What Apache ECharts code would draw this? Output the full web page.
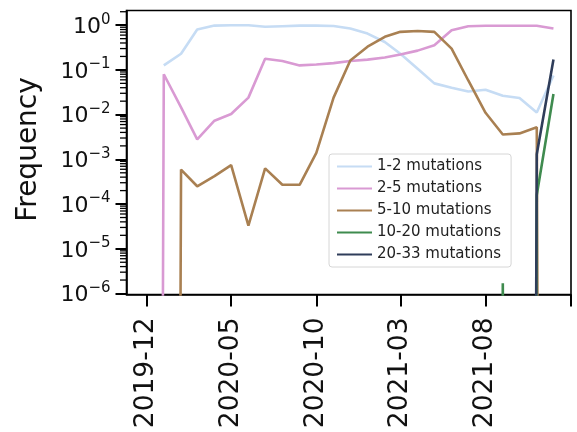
<!DOCTYPE html>
<html>
<head>
<meta charset="utf-8">
<script src="https://cdn.jsdelivr.net/npm/echarts@6/dist/echarts.min.js"></script>
<style>
html,body{margin:0;padding:0;background:#fff;}
#chart{width:577px;height:432px;}
</style>
</head>
<body>
<div id="chart"></div>
<script>
// Months (first of month); a value of ZERO stands for a zero frequency,
// which on a log axis falls far below the plot (as matplotlib clips it).
const ZERO = 1e-100;
const months = ['2019-12','2020-01','2020-02','2020-03','2020-04','2020-05','2020-06','2020-07','2020-08','2020-09','2020-10','2020-11','2020-12',
                '2021-01','2021-02','2021-03','2021-04','2021-05','2021-06','2021-07','2021-08','2021-09','2021-10','2021-11','2021-12'];
const mut1_2   = [null, 0.126, 0.23, 0.80, 0.98, 1.0, 1.0, 0.92, 0.95, 0.98, 0.98, 0.96, 0.84,
                  0.65, 0.42, 0.23, 0.106, 0.050, 0.040, 0.033, 0.036, 0.0265, 0.0235, 0.0112, 0.075];
const mut2_5   = [ZERO, 0.08, 0.0145, 0.0028, 0.0073, 0.0103, 0.024, 0.178, 0.158, 0.126, 0.132, 0.142, 0.158,
                  0.17, 0.19, 0.22, 0.27, 0.355, 0.77, 0.95, 0.97, 0.97, 0.97, 0.97, 0.84];
const mut5_10  = [ZERO, ZERO, 5.9e-4, 2.5e-4, 4.2e-4, 7.4e-4, 3.3e-5, 6.3e-4, 2.7e-4, 2.7e-4, 1.4e-3, 0.024, 0.163,
                  0.33, 0.55, 0.71, 0.74, 0.71, 0.30, 0.058, 0.011, 3.6e-3, 3.8e-3, 5.2e-3, ZERO];
const mut10_20 = [ZERO, ZERO, ZERO, ZERO, ZERO, ZERO, ZERO, ZERO, ZERO, ZERO, ZERO, ZERO, ZERO,
                  ZERO, ZERO, ZERO, ZERO, ZERO, ZERO, ZERO, ZERO, 1.7e-6, ZERO, 1.6e-4, 0.029];
const mut20_33 = [ZERO, ZERO, ZERO, ZERO, ZERO, ZERO, ZERO, ZERO, ZERO, ZERO, ZERO, ZERO, ZERO,
                  ZERO, ZERO, ZERO, ZERO, ZERO, ZERO, ZERO, ZERO, ZERO, ZERO, 1.3e-3, 0.17];
const seriesNames = ['1-2 mutations','2-5 mutations','5-10 mutations','10-20 mutations','20-33 mutations'];
const seriesColors = ['#c6dcf4','#d99ad3','#a98052','#3f8b4f','#2f3d5a'];
const xTickMonths = ['2019-12','2020-05','2020-10','2021-03','2021-08','2022-01'];
const xTickLabels = ['2019-12','2020-05','2020-10','2021-03','2021-08',''];
const yTickValues = [1, 0.1, 0.01, 0.001, 0.0001, 0.00001, 0.000001];
const yTickExps   = ['0','\u22121','\u22122','\u22123','\u22124','\u22125','\u22126'];

const DAY = 86400000;
function ts(ym){ const p = ym.split('-'); return Date.UTC(+p[0], +p[1]-1, 1); }
const xMin = ts('2019-10-01') + 25*DAY, xMax = ts('2022-01-01') + 0.5*DAY;
const yMin = 9.5e-7, yMax = 2.13;
const xTickValues = xTickMonths.map(ts);
const xLabelMap = {}; xTickValues.forEach((v,i)=>{ xLabelMap[v] = xTickLabels[i]; });
const yLabelMap = {}; yTickValues.forEach((v,i)=>{ yLabelMap[v.toExponential(0)] = '{b|10}{s|' + yTickExps[i] + '}'; });
// minor log ticks (2..9 x 10^k) like matplotlib
const minorTicks = [];
for (let k = -7; k <= 0; k++) for (let m = 2; m <= 9; m++) {
  const v = m * Math.pow(10, k);
  if (v > yMin && v < yMax) minorTicks.push(v);
}
const allSeries = [mut1_2, mut2_5, mut5_10, mut10_20, mut20_33];
const FONT = 'DejaVu Sans';

const chart = echarts.init(document.getElementById('chart'), null, {renderer:'canvas'});
chart.setOption({
  animation: false,
  backgroundColor: '#fff',
  grid: {left: 126.5, right: 6, top: 10.5, bottom: 137.5, show: true, borderColor: '#000', borderWidth: 1.6, backgroundColor: 'transparent'},
  legend: {
    data: seriesNames, orient: 'vertical', left: 329, top: 154,
    itemWidth: 35, itemHeight: 16, itemGap: 7,
    padding: [5, 10, 5, 7],
    itemStyle: {opacity: 0},
    lineStyle: {opacity: 1},
    backgroundColor: 'rgba(255,255,255,0.85)', borderColor: '#d6d6d6', borderWidth: 1, borderRadius: 3,
    textStyle: {fontFamily: FONT, fontSize: 15, color: '#222'}
  },
  xAxis: {
    type: 'value', min: xMin, max: xMax,
    axisLine: {show: true, onZero: false, lineStyle: {color: '#000', width: 1.6}},
    axisTick: {show: true, length: 12, lineStyle: {color: '#000', width: 2}, customValues: xTickValues},
    axisLabel: {show: true, rotate: 90, margin: 23, fontFamily: FONT, fontSize: 26.5, color: '#111',
                customValues: xTickValues.slice(0, 5), formatter: v => xLabelMap[v] || ''},
    splitLine: {show: false}
  },
  yAxis: {
    type: 'log', logBase: 10, min: yMin, max: yMax,
    name: 'Frequency', nameLocation: 'middle', nameGap: 84, nameRotate: 90,
    nameTextStyle: {fontFamily: FONT, fontSize: 28, color: '#111', padding: [0, 0, 0, 6]},
    axisLine: {show: true, lineStyle: {color: '#000', width: 1.6}},
    axisTick: {show: true, length: 11, lineStyle: {color: '#000', width: 2}, customValues: yTickValues},
    axisLabel: {show: true, margin: 16, color: '#111',
                customValues: yTickValues, formatter: v => yLabelMap[Number(v).toExponential(0)] || '',
                rich: {
                  b: {fontFamily: FONT, fontSize: 22, color: '#111', lineHeight: 26, verticalAlign: 'bottom'},
                  s: {fontFamily: FONT, fontSize: 15, color: '#111', lineHeight: 15, verticalAlign: 'top'}
                }},
    splitLine: {show: false}
  },
  series: allSeries.map((vals, i) => ({
    name: seriesNames[i], type: 'line',
    data: months.map((m, j) => [ts(m), vals[j]]),
    symbol: 'none', showSymbol: false, clip: true, connectNulls: false,
    lineStyle: {color: seriesColors[i], width: 2.6},
    itemStyle: {color: seriesColors[i]},
    z: 2 + i
  }))
});
// minor tick marks, positioned through the y axis' log scale
const minorPts = minorTicks.map(v => chart.convertToPixel({xAxisIndex: 0, yAxisIndex: 0}, [xMin, v]));
chart.setOption({
  graphic: minorPts.map(p => ({type: 'line', silent: true, z: 10,
          shape: {x1: p[0] - 6.5, y1: p[1], x2: p[0], y2: p[1]},
          style: {stroke: '#000', lineWidth: 1.3}}))
});
</script>
</body>
</html>
